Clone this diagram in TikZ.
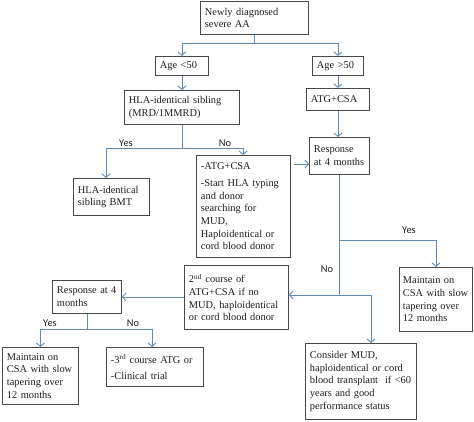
\documentclass[tikz,border=0pt]{standalone}
\usepackage{fontspec}
\setmainfont{Liberation Serif}
\newfontfamily\lblfont{Carlito}
\usetikzlibrary{arrows.meta}
\definecolor{linkblue}{HTML}{5E8AB4}
\definecolor{boxgray}{HTML}{484848}
\definecolor{txtgray}{HTML}{1E1E1E}
\tikzset{
  box/.style={draw=boxgray, line width=0.9pt, inner xsep=4.5pt, inner ysep=2pt,
    align=left, anchor=north west, text=txtgray,
    font=\fontsize{10.4}{12.7}\selectfont},
  link/.style={draw=linkblue, line width=0.9pt},
  arr/.style={link, -{Straight Barb[length=3.5pt,width=8pt]}},
  lbl/.style={font=\lblfont\fontsize{10.4}{12}\selectfont, text=txtgray, inner sep=0pt}
}
\begin{document}
\begin{tikzpicture}[x=1pt,y=-1pt]
\useasboundingbox (0,0) rectangle (474,421);
% boxes
\node[box, text width=99pt, minimum height=33pt] (new) at (200,1) {Newly diagnosed\\severe AA};
\node[box, text width=44pt, minimum height=19pt] (age1) at (155,56) {Age <50};
\node[box, text width=42pt, minimum height=19pt] (age2) at (312,56) {Age >50};
\node[box, text width=106pt, minimum height=34pt] (hla) at (124,90) {HLA-identical sibling\\(MRD/1MMRD)};
\node[box, text width=54pt, minimum height=22pt] (atg) at (306,88) {ATG+CSA};
\node[box, text width=67pt, minimum height=37pt] (bmt) at (73,178) {HLA-identical\\sibling BMT};
\node[box, text width=85pt, minimum height=102pt] (atgs) at (196,155) {-ATG+CSA\\[4pt]-Start HLA typing\\and donor\\searching for\\MUD,\\Haploidentical or\\cord blood donor};
\node[box, text width=51pt, minimum height=37pt] (resp) at (309,137) {Response\\at 4 months};
\node[box, text width=95pt, minimum height=64pt] (second) at (184,265) {2\textsuperscript{nd} course of\\ATG+CSA if no\\MUD, haploidentical\\or cord blood donor};
\node[box, inner xsep=3.5pt, text width=66pt, minimum height=64pt] (maintR) at (399,267) {Maintain on\\\mbox{CSA with slow}\\tapering over\\12 months};
\node[box, text width=60pt, minimum height=33pt] (resp2) at (52,280) {Response at 4\\months};
\node[box, text width=67pt, minimum height=57pt] (maintL) at (2,347) {Maintain on\\\mbox{CSA with slow}\\tapering over\\12 months};
\node[box, text width=88pt, minimum height=39pt] (third) at (106,347) {-3\textsuperscript{rd} course ATG or\\[3pt]-Clinical trial};
\node[box, text width=102pt, minimum height=76pt] (consider) at (305,343) {Consider MUD,\\haploidentical or cord\\blood transplant\ \ if <60\\years and good\\performance status};
% junction coordinates
\coordinate (j1) at (new.south |- 0,43);
\coordinate (j2) at (hla.south |- 0,148);
\coordinate (bmtin) at (106,178);
\coordinate (atgsin) at (243,155);
\coordinate (rowa) at (0,164);
\coordinate (j3) at (resp.south |- 0,240);
\coordinate (j4) at (resp.south |- 0,295);
\coordinate (conin) at (371,343);
\coordinate (j5) at (resp2.south |- 0,329);
\coordinate (thirdin) at (152,347);
% connectors
\draw[link] (new.south) -- (j1);
\draw[arr] (j1) -| (age1.north);
\draw[arr] (j1) -| (age2.north);
\draw[arr] (age1.south) -- (hla.north);
\draw[arr] (age2.south) -- (atg.north);
\draw[arr] (atg.south) -- (atg.south |- resp.north);
\draw[link] (hla.south) -- (j2);
\draw[arr] (j2) -| (bmtin);
\draw[arr] (j2) -| (atgsin);
\draw[arr, shorten <=3pt] (atgs.east |- rowa) -- (resp.west |- rowa);
\draw[link] (resp.south) -- (j4);
\draw[arr] (j3) -| (maintR.north);
\draw[arr] (j4) -- (second.east |- j4);
\draw[arr] (j4) -| (conin);
\draw[arr] (second.west |- resp2.east) -- (resp2.east);
\draw[link] (resp2.south) -- (j5);
\draw[arr] (j5) -| (maintL.north);
\draw[arr] (j5) -| (thirdin);
% labels
\node[lbl] (y1) at (126,143) {Yes};
\node[lbl] (n1) at (225,143) {No};
\node[lbl] (y2) at (409,230) {Yes};
\node[lbl] (n2) at (327,269) {No};
\node[lbl] (y3) at (50,323) {Yes};
\node[lbl] (n3) at (133,323) {No};
\end{tikzpicture}
\end{document}
